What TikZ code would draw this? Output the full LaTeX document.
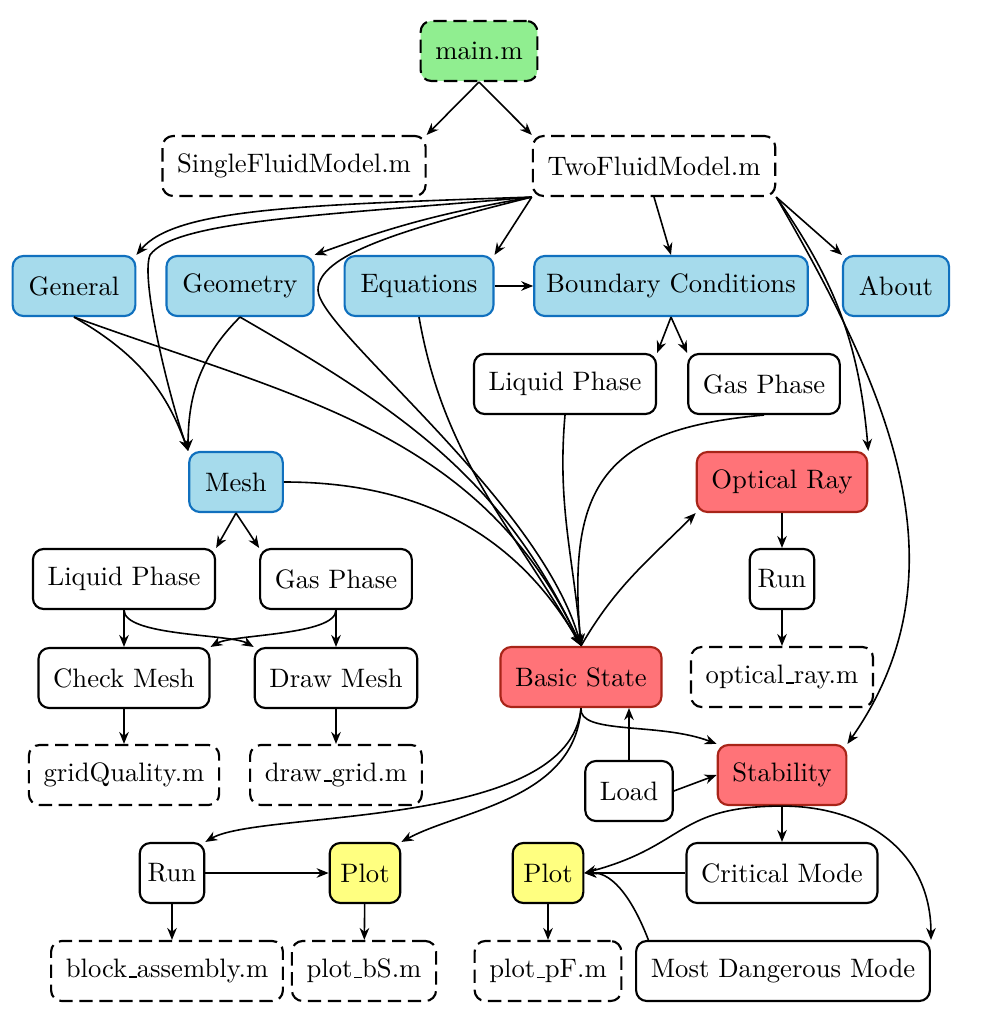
\documentclass[tikz,border=0pt]{standalone}
\usetikzlibrary{arrows.meta}

\definecolor{mgreen}{RGB}{144,238,144}
\definecolor{bfill}{RGB}{166,219,236}
\definecolor{bdraw}{RGB}{16,112,190}
\definecolor{rfill}{RGB}{255,115,120}
\definecolor{rdraw}{RGB}{168,36,24}
\definecolor{yfill}{RGB}{255,255,128}

% short underscore as in the file names
\newcommand{\usc}{\leavevmode\kern.06em\vbox{\hrule width.3em}}

\tikzset{
  box/.style={draw, thick, rounded corners=4pt, minimum height=22.5pt, inner xsep=5.5pt, fill=white},
  file/.style={box, dash pattern=on 5pt off 2.5pt},
  gui/.style={box, draw=bdraw, fill=bfill, inner xsep=6pt},
  calc/.style={box, draw=rdraw, fill=rfill},
  plotbox/.style={box, fill=yfill, inner xsep=4pt},
  link/.style={->, semithick},
}

\begin{document}
\begin{tikzpicture}[x=0.375pt, y=0.375pt, >={Stealth[length=4.5pt,width=3.6pt]}]
\useasboundingbox (0,0) rectangle (990,-1026);

% files and modules
\node[file, fill=mgreen] (main) at (479,-51) {main.m};
\node[file] (sfm) at (294,-166) {SingleFluidModel.m};
\node[file] (tfm) at (654,-166) {TwoFluidModel.m};

\node[gui] (gen) at (74,-286) {General};
\node[gui] (geo) at (240,-286) {Geometry};
\node[gui] (eqn) at (419,-286) {Equations};
\node[gui, inner xsep=4.5pt] (bc) at (671,-286) {Boundary Conditions};
\node[gui] (about) at (896,-286) {About};

\node[box] (bcl) at (565,-384) {Liquid Phase};
\node[box] (bcg) at (764,-384) {Gas Phase};

\node[gui] (mesh) at (236,-482) {Mesh};
\node[calc] (oray) at (782,-482) {Optical Ray};

\node[box] (ml) at (124,-579) {Liquid Phase};
\node[box] (mg) at (336,-579) {Gas Phase};
\node[box, inner xsep=3pt] (orun) at (782,-579) {Run};

\node[box] (chk) at (124,-678) {Check Mesh};
\node[box] (drw) at (336,-678) {Draw Mesh};
\node[calc] (bs) at (581,-677) {Basic State};
\node[file] (orm) at (782,-677) {optical\usc ray.m};

\node[file] (gq) at (124,-775) {gridQuality.m};
\node[file] (dg) at (336,-775) {draw\usc grid.m};
\node[box] (load) at (629,-791) {Load};
\node[calc] (stab) at (782,-775) {Stability};

\node[box, inner xsep=3pt] (brun) at (172,-873) {Run};
\node[plotbox] (bplot) at (365,-873) {Plot};
\node[plotbox] (splot) at (548,-873) {Plot};
\node[box] (crit) at (782,-873) {Critical Mode};

\node[file] (ba) at (167,-971) {block\usc assembly.m};
\node[file] (pbs) at (364,-971) {plot\usc bS.m};
\node[file] (ppf) at (548,-971) {plot\usc pF.m};
\node[box] (mdm) at (783,-971) {Most Dangerous Mode};

% top
\draw[link] (main.south) -- (sfm.north east);
\draw[link] (main.south) -- (tfm.north west);

\draw[link] (tfm.south west) .. controls (297,-205) and (175,-209) .. (gen.north east);
\draw[link] (tfm.south west) .. controls (330,-215) and (175,-220) .. (150,-255)
  .. controls (140,-280) and (170,-400) .. (mesh.north west);
\draw[link] (tfm.south west) to[out=190,in=20] (geo.north east);
\draw[link] (tfm.south west) .. controls (400,-230) and (318,-255) .. (318,-290)
  .. controls (318,-330) and (540,-500) .. (bs.north);
\draw[link] (tfm.south west) -- (eqn.north east);
\draw[link] (tfm.south) -- (bc.north);
\draw[link] (tfm.south east) -- (about.north west);
\draw[link] (tfm.south east) to[out=-55,in=95] (oray.north east);
\draw[link] (tfm.south east) to[out=-60,in=55] (stab.north east);

\draw[link] (eqn) -- (bc);
\draw[link] (bc.south) -- (bcl.north east);
\draw[link] (bc.south) -- (bcg.north west);

% into basic state
\draw[link] (gen.south) to[out=-20,in=115] (bs.north);
\draw[link] (geo.south) to[out=-30,in=115] (bs.north);
\draw[link] (eqn.south) to[out=-80,in=120] (bs.north);
\draw[link] (mesh.east) to[out=0,in=120] (bs.north);
\draw[link] (bcl.south) to[out=-95,in=95] (bs.north);
\draw[link] (bcg.south) to[out=185,in=95,looseness=1.4] (bs.north);

% mesh
\draw[link] (gen.south) to[out=-30,in=110] (mesh.north west);
\draw[link] (geo.south) to[out=-135,in=90] (mesh.north west);
\draw[link] (mesh.south) -- (ml.north east);
\draw[link] (mesh.south) -- (mg.north west);
\draw[link] (ml) -- (chk);
\draw[link] (mg) -- (drw);
\draw[link] (ml.south) to[out=-90,in=150,looseness=0.5] (drw.north west);
\draw[link] (mg.south) to[out=-90,in=30,looseness=0.5] (chk.north east);
\draw[link] (chk) -- (gq);
\draw[link] (drw) -- (dg);

% optical ray
\draw[link] (bs.north) to[out=60,in=225] (oray.south west);
\draw[link] (oray) -- (orun);
\draw[link] (orun) -- (orm);

% basic state and stability
\draw[link] (bs.south) .. controls (578,-735) and (660,-722) .. (stab.north west);
\draw[link] (load.north) -- (load.north |- bs.south);
\draw[link] (load.east) -- (stab.west);
\draw[link] (bs.south) .. controls (570,-830) and (260,-810) .. (brun.north east);
\draw[link] (bs.south) .. controls (575,-800) and (460,-810) .. (bplot.north east);

\draw[link] (brun) -- (bplot);
\draw[link] (brun.south) -- (brun.south |- ba.north);
\draw[link] (bplot) -- (pbs);
\draw[link] (splot) -- (ppf);

\draw[link] (stab) -- (crit);
\draw[link] (crit) -- (splot);
\draw[link] (stab.south) to[out=180,in=15,looseness=1.3] (splot.east);
\draw[link] (mdm.167) .. controls (635,-905) and (615,-872) .. (splot.east);
\draw[link] (stab.south) to[out=0,in=90,looseness=1.1] (mdm.north east);
\end{tikzpicture}
\end{document}
